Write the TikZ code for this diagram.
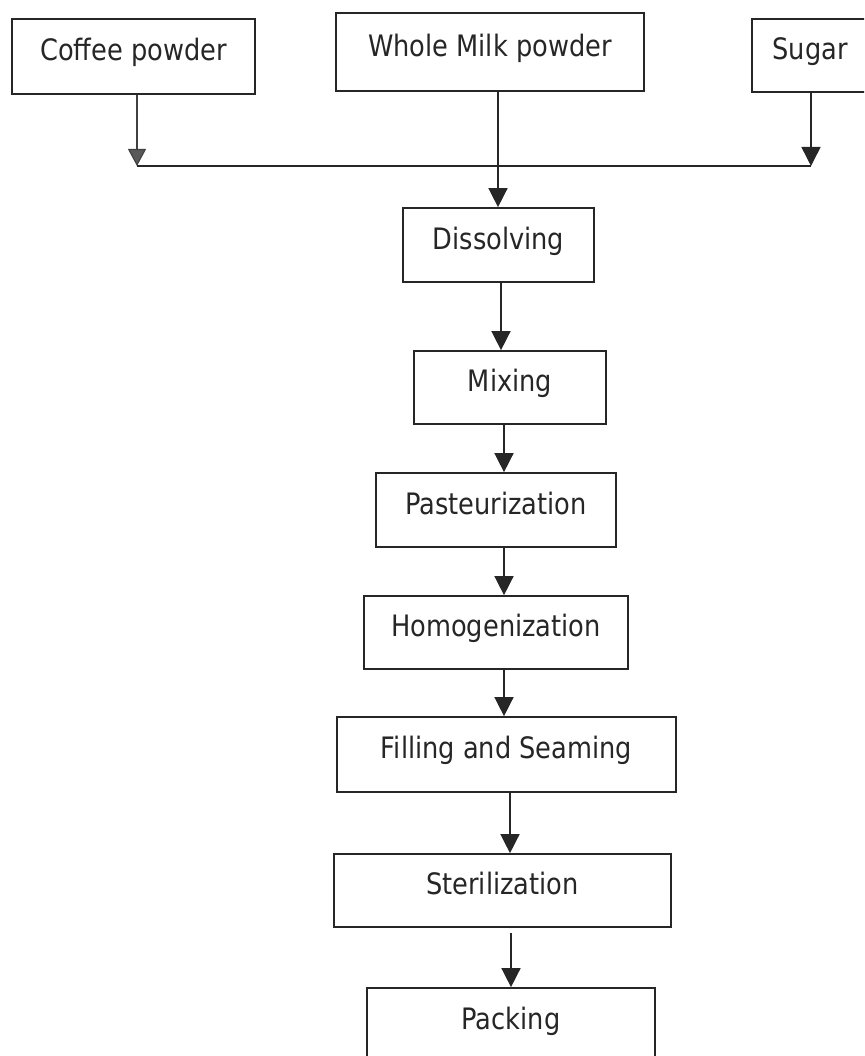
\documentclass[tikz,border=0pt]{standalone}
\usepackage{fontspec}
\setmainfont{DejaVu Sans}[FakeStretch=0.87]
\usetikzlibrary{arrows.meta}
\tikzset{
  procbox/.style={draw=black!85, line width=1.7pt, inner sep=0pt, text=black!85,
    font=\fontsize{29.5}{35}\selectfont, text height=21.5pt, text depth=13pt},
  arr/.style={draw=black!85, line width=1.5pt, -{Triangle[width=19pt,length=19pt]}},
  arrlight/.style={draw=black!75, line width=1.1pt, -{Triangle[width=18pt,length=17pt,fill=black!65]}},
  joinline/.style={draw=black!85, line width=1.5pt}
}
\begin{document}
\begin{tikzpicture}[x=1pt,y=-1pt]
\useasboundingbox (0,0) rectangle (864,1056);
\fill[white] (0,0) rectangle (864,1056);
\clip (0,0) rectangle (864,1056);
% input boxes
\node[procbox, minimum width=243pt, minimum height=75pt] (cof) at (133.5,56.5) {Coffee powder};
\node[procbox, minimum width=308pt, minimum height=78pt] (milk) at (490,52) {Whole Milk powder};
\node[procbox, minimum width=116pt, minimum height=73pt] (sug) at (810,55.5) {Sugar};
% process boxes
\node[procbox, minimum width=191pt, minimum height=74pt] (dis) at (498.5,245) {Dissolving};
\node[procbox, minimum width=192pt, minimum height=73pt] (mix) at (510,387.5) {Mixing};
\node[procbox, minimum width=240pt, minimum height=74pt] (pas) at (496,510) {Pasteurization};
\node[procbox, minimum width=264pt, minimum height=73pt] (hom) at (496,632.5) {Homogenization};
\node[procbox, minimum width=339pt, minimum height=75pt] (fil) at (506.5,754.5) {Filling and Seaming};
\node[procbox, minimum width=337pt, minimum height=73pt] (ste) at (502.5,890.5) {Sterilization};
\node[procbox, minimum width=288pt, minimum height=74pt] (pac) at (511,1025) {Packing};
% junction coordinates
\coordinate (jl) at (137,166);
\coordinate (jr) at (811,166);
\coordinate (jm) at (498,166);
% connectors
\draw[arrlight] (cof.south -| jl) -- (jl);
\draw[arr] (sug.south -| jr) -- (jr);
\draw[joinline] (jl) -- (jr);
\draw[arr] (milk.south -| jm) -- (dis.north -| jm);
\draw[arr] ([xshift=2.5pt]dis.south) -- ([xshift=2.5pt]dis.south |- mix.north);
\draw[arr] ([xshift=-6pt]mix.south) -- ([xshift=-6pt]mix.south |- pas.north);
\draw[arr] ([xshift=8pt]pas.south) -- ([xshift=8pt]pas.south |- hom.north);
\draw[arr] ([xshift=8pt]hom.south) -- ([xshift=8pt]hom.south |- fil.north);
\draw[arr] ([xshift=3.5pt]fil.south) -- ([xshift=3.5pt]fil.south |- ste.north);
\draw[arr] ([xshift=8.5pt,yshift=-5pt]ste.south) -- ([xshift=8.5pt]ste.south |- pac.north);
\end{tikzpicture}
\end{document}
